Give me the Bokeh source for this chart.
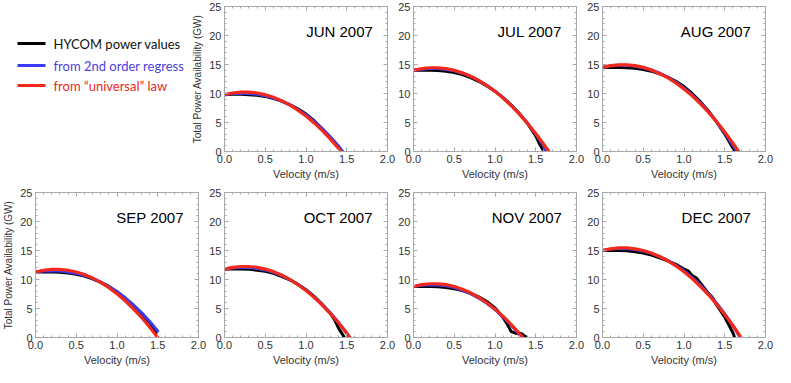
from bokeh.plotting import figure
from bokeh.models import (Range1d, LinearAxis, SingleIntervalTicker, PrintfTickFormatter,
                          Label, CustomLabelingPolicy)
from bokeh.layouts import row, column
from bokeh.core.properties import value
from bokeh.embed import file_html
from bokeh.resources import INLINE

# ---------------- data (velocity m/s, power GW) ----------------
SERIES_NAMES = ["HYCOM power values", "from 2nd order regress", "from \u201cuniversal\u201d law"]
MONTHS = ["JUN 2007", "JUL 2007", "AUG 2007", "SEP 2007", "OCT 2007", "NOV 2007", "DEC 2007"]

jun_hycom_v = [0.0, 0.1, 0.2, 0.3, 0.4, 0.5, 0.6, 0.7, 0.8, 0.9, 1.0, 1.1, 1.2, 1.3, 1.4, 1.44]
jun_hycom_p = [9.8, 9.85, 9.85, 9.8, 9.7, 9.5, 9.15, 8.7, 8.1, 7.35, 6.45, 5.3, 3.9, 2.4, 0.8, 0.0]
jun_regr_v = [0.0, 0.1, 0.2, 0.3, 0.4, 0.5, 0.6, 0.7, 0.8, 0.9, 1.0, 1.1, 1.2, 1.3, 1.4, 1.45]
jun_regr_p = [9.8, 10.0, 10.05, 10.0, 9.85, 9.6, 9.2, 8.7, 8.05, 7.25, 6.3, 5.2, 3.9, 2.5, 0.9, 0.0]
jun_univ_v = [0.0, 0.1, 0.2, 0.3, 0.4, 0.5, 0.6, 0.7, 0.8, 0.9, 1.0, 1.1, 1.2, 1.3, 1.4, 1.43]
jun_univ_p = [9.8, 10.09, 10.24, 10.24, 10.09, 9.8, 9.35, 8.77, 8.03, 7.14, 6.11, 4.93, 3.6, 2.13, 0.51, 0.0]

jul_hycom_v = [0.0, 0.1, 0.2, 0.3, 0.4, 0.5, 0.6, 0.7, 0.8, 0.9, 1.0, 1.1, 1.2, 1.3, 1.4, 1.5, 1.55, 1.6]
jul_hycom_p = [14.0, 14.0, 14.0, 13.95, 13.85, 13.6, 13.25, 12.75, 12.1, 11.3, 10.4, 9.3, 8.0, 6.5, 4.8, 2.7, 1.2, 0.0]
jul_regr_v = [0.0, 0.1, 0.2, 0.3, 0.4, 0.5, 0.6, 0.7, 0.8, 0.9, 1.0, 1.1, 1.2, 1.3, 1.4, 1.5, 1.6, 1.62]
jul_regr_p = [14.0, 14.2, 14.3, 14.3, 14.15, 13.9, 13.5, 12.95, 12.25, 11.4, 10.4, 9.25, 7.95, 6.5, 4.85, 3.0, 0.9, 0.0]
jul_univ_v = [0.0, 0.1, 0.2, 0.3, 0.4, 0.5, 0.6, 0.7, 0.8, 0.9, 1.0, 1.1, 1.2, 1.3, 1.4, 1.5, 1.6, 1.66]
jul_univ_p = [14.0, 14.29, 14.44, 14.44, 14.29, 14.0, 13.56, 12.98, 12.26, 11.38, 10.37, 9.2, 7.89, 6.44, 4.84, 3.1, 1.21, 0.0]

aug_hycom_v = [0.0, 0.1, 0.2, 0.3, 0.4, 0.5, 0.6, 0.7, 0.8, 0.9, 1.0, 1.1, 1.2, 1.3, 1.4, 1.5, 1.6, 1.62]
aug_hycom_p = [14.5, 14.5, 14.5, 14.45, 14.35, 14.15, 13.85, 13.4, 12.85, 12.1, 11.2, 10.0, 8.6, 7.0, 5.1, 3.0, 0.6, 0.0]
aug_regr_v = [0.0, 0.1, 0.2, 0.3, 0.4, 0.5, 0.6, 0.7, 0.8, 0.9, 1.0, 1.1, 1.2, 1.3, 1.4, 1.5, 1.6, 1.65]
aug_regr_p = [14.5, 14.75, 14.85, 14.85, 14.7, 14.45, 14.05, 13.5, 12.8, 11.95, 10.95, 9.75, 8.4, 6.85, 5.1, 3.2, 1.1, 0.0]
aug_univ_v = [0.0, 0.1, 0.2, 0.3, 0.4, 0.5, 0.6, 0.7, 0.8, 0.9, 1.0, 1.1, 1.2, 1.3, 1.4, 1.5, 1.6, 1.67]
aug_univ_p = [14.5, 14.8, 14.94, 14.94, 14.8, 14.5, 14.06, 13.46, 12.72, 11.83, 10.79, 9.6, 8.27, 6.78, 5.15, 3.37, 1.44, 0.0]

sep_hycom_v = [0.0, 0.1, 0.2, 0.3, 0.4, 0.5, 0.6, 0.7, 0.8, 0.9, 1.0, 1.1, 1.2, 1.3, 1.4, 1.47, 1.49]
sep_hycom_p = [11.3, 11.3, 11.3, 11.25, 11.1, 10.9, 10.6, 10.1, 9.5, 8.8, 7.9, 6.8, 5.5, 4.1, 2.6, 1.2, 0.0]
sep_regr_v = [0.0, 0.1, 0.2, 0.3, 0.4, 0.5, 0.6, 0.7, 0.8, 0.9, 1.0, 1.1, 1.2, 1.3, 1.4, 1.5]
sep_regr_p = [11.3, 11.45, 11.5, 11.45, 11.3, 11.05, 10.7, 10.2, 9.55, 8.8, 7.9, 6.85, 5.65, 4.3, 2.8, 1.1]
sep_univ_v = [0.0, 0.1, 0.2, 0.3, 0.4, 0.5, 0.6, 0.7, 0.8, 0.9, 1.0, 1.1, 1.2, 1.3, 1.4, 1.5]
sep_univ_p = [11.3, 11.6, 11.75, 11.75, 11.6, 11.3, 10.85, 10.25, 9.5, 8.59, 7.54, 6.34, 4.98, 3.48, 1.82, 0.0]

oct_hycom_v = [0.0, 0.1, 0.2, 0.3, 0.4, 0.5, 0.6, 0.7, 0.8, 0.9, 1.0, 1.1, 1.2, 1.3, 1.35, 1.4, 1.45, 1.47]
oct_hycom_p = [11.8, 11.8, 11.8, 11.75, 11.6, 11.4, 11.05, 10.55, 9.95, 9.2, 8.25, 7.1, 5.7, 4.1, 3.1, 1.6, 0.5, 0.0]
oct_regr_v = [0.0, 0.1, 0.2, 0.3, 0.4, 0.5, 0.6, 0.7, 0.8, 0.9, 1.0, 1.1, 1.2, 1.3, 1.4, 1.5, 1.53]
oct_regr_p = [11.8, 12.0, 12.1, 12.05, 11.9, 11.65, 11.25, 10.7, 10.0, 9.15, 8.15, 7.0, 5.7, 4.25, 2.6, 0.8, 0.0]
oct_univ_v = [0.0, 0.1, 0.2, 0.3, 0.4, 0.5, 0.6, 0.7, 0.8, 0.9, 1.0, 1.1, 1.2, 1.3, 1.4, 1.5, 1.54]
oct_univ_p = [11.8, 12.09, 12.24, 12.24, 12.09, 11.8, 11.36, 10.77, 10.03, 9.14, 8.11, 6.93, 5.6, 4.13, 2.51, 0.74, 0.0]

nov_hycom_v = [0.0, 0.1, 0.2, 0.3, 0.4, 0.5, 0.6, 0.7, 0.8, 0.9, 1.0, 1.05, 1.1, 1.15, 1.2, 1.25, 1.32, 1.36, 1.39]
nov_hycom_p = [8.8, 8.8, 8.8, 8.75, 8.6, 8.4, 8.1, 7.6, 7.0, 6.2, 5.1, 4.3, 3.4, 2.3, 1.0, 0.75, 0.7, 0.3, 0.0]
nov_regr_v = [0.0, 0.1, 0.2, 0.3, 0.4, 0.5, 0.6, 0.7, 0.8, 0.9, 1.0, 1.1, 1.2, 1.3, 1.32]
nov_regr_p = [8.8, 9.0, 9.1, 9.05, 8.9, 8.6, 8.15, 7.55, 6.8, 5.9, 4.8, 3.55, 2.1, 0.5, 0.0]
nov_univ_v = [0.0, 0.1, 0.2, 0.3, 0.4, 0.5, 0.6, 0.7, 0.8, 0.9, 1.0, 1.1, 1.2, 1.3, 1.34]
nov_univ_p = [8.8, 9.11, 9.27, 9.27, 9.11, 8.8, 8.33, 7.71, 6.92, 5.99, 4.89, 3.64, 2.23, 0.67, 0.0]

dec_hycom_v = [0.0, 0.1, 0.2, 0.3, 0.4, 0.5, 0.6, 0.7, 0.8, 0.9, 1.0, 1.05, 1.1, 1.15, 1.2, 1.3, 1.35, 1.4, 1.5, 1.55, 1.6, 1.62]
dec_hycom_p = [15.0, 15.0, 15.0, 14.95, 14.8, 14.55, 14.2, 13.75, 13.2, 12.6, 11.8, 11.5, 10.7, 10.3, 9.4, 7.6, 6.9, 5.6, 3.5, 2.2, 0.8, 0.0]
dec_regr_v = [0.0, 0.1, 0.2, 0.3, 0.4, 0.5, 0.6, 0.7, 0.8, 0.9, 1.0, 1.1, 1.2, 1.3, 1.4, 1.5, 1.6, 1.69]
dec_regr_p = [15.0, 15.25, 15.35, 15.3, 15.15, 14.9, 14.5, 13.95, 13.3, 12.45, 11.5, 10.35, 9.05, 7.55, 5.9, 4.05, 2.05, 0.0]
dec_univ_v = [0.0, 0.1, 0.2, 0.3, 0.4, 0.5, 0.6, 0.7, 0.8, 0.9, 1.0, 1.1, 1.2, 1.3, 1.4, 1.5, 1.6, 1.7]
dec_univ_p = [15.0, 15.29, 15.44, 15.44, 15.29, 15.0, 14.56, 13.97, 13.24, 12.36, 11.33, 10.15, 8.83, 7.36, 5.75, 3.98, 2.07, 0.0]

X_LABEL = "Velocity (m/s)"
Y_LABEL = "Total Power Availability (GW)"

# ---------------- styling ----------------
COLORS = ["#000000", "#3b3bf2", "#f2281a"]
TEXT_COLORS = ["#111111", "#4a3fe0", "#e8281c"]
WIDTHS = [3.0, 3.0, 3.2]
FRAME_W, FRAME_H = 163, 145
AX_COLOR = "#a8a8a8"
TICK_FONT = "Liberation Sans"
TOP_B, BOT_B = (6, 30), (10, 28)   # min borders (top, bottom) for the two rows


def style_axis(ax, labels=True):
    ax.axis_line_color = AX_COLOR
    ax.major_tick_line_color = AX_COLOR
    ax.minor_tick_line_color = AX_COLOR
    ax.major_tick_in = 4
    ax.major_tick_out = 0
    ax.minor_tick_in = 2
    ax.minor_tick_out = 0
    if labels:
        ax.major_label_text_font = TICK_FONT
        ax.major_label_text_font_size = "11px"
        ax.major_label_text_color = "#333333"
        ax.major_label_standoff = 3
    else:
        # tick marks only: no labels are drawn and none take up room
        ax.major_label_text_font_size = "0px"
        ax.major_label_policy = CustomLabelingPolicy(code="return []")
        ax.major_label_standoff = 0


def panel(title, data, ylabel, top_row, last_col):
    tb, bb = TOP_B if top_row else BOT_B
    p = figure(frame_width=FRAME_W, frame_height=FRAME_H,
               x_range=Range1d(0, 2.0), y_range=Range1d(0, 25),
               output_backend="svg", toolbar_location=None,
               min_border_left=30 if ylabel else 18, min_border_right=11 if last_col else 8,
               min_border_top=tb, min_border_bottom=bb)
    p.grid.visible = False
    p.outline_line_color = AX_COLOR
    p.background_fill_color = "white"

    p.xaxis.ticker = SingleIntervalTicker(interval=0.5, num_minor_ticks=5)
    p.yaxis.ticker = SingleIntervalTicker(interval=5, num_minor_ticks=5)
    p.xaxis.formatter = PrintfTickFormatter(format="%.1f")
    for ax in p.xaxis + p.yaxis:
        style_axis(ax)
    p.xaxis.axis_label = X_LABEL
    p.xaxis.axis_label_text_font = TICK_FONT
    p.xaxis.axis_label_text_font_style = "normal"
    p.xaxis.axis_label_text_font_size = "11px"
    p.xaxis.axis_label_text_color = "#333333"
    p.xaxis.axis_label_standoff = 2
    if ylabel:
        p.yaxis.axis_label = Y_LABEL
        p.yaxis.axis_label_text_font = TICK_FONT
        p.yaxis.axis_label_text_font_style = "normal"
        p.yaxis.axis_label_text_font_size = "10px"
        p.yaxis.axis_label_text_color = "#333333"
        p.yaxis.axis_label_standoff = 3

    top = LinearAxis(ticker=SingleIntervalTicker(interval=0.5, num_minor_ticks=5))
    right = LinearAxis(ticker=SingleIntervalTicker(interval=5, num_minor_ticks=5))
    style_axis(top, labels=False)
    style_axis(right, labels=False)
    p.add_layout(top, "above")
    p.add_layout(right, "right")

    for (v, pw), c, w in zip(data, COLORS, WIDTHS):
        p.line(v, pw, line_color=c, line_width=w, line_join="round", line_cap="round")

    p.add_layout(Label(x=1.82, y=20.7, text=title, text_align="right", text_baseline="middle",
                       text_font=TICK_FONT, text_font_size="15px", text_color="#000000"))
    return p


# legend cell: a blank frame whose ranges are in pixels (y measured from the frame top)
LEG_W = 189
leg_fig = figure(frame_width=LEG_W, frame_height=FRAME_H,
                 x_range=Range1d(0, LEG_W), y_range=Range1d(FRAME_H, 0),
                 x_axis_type=None, y_axis_type=None, output_backend="svg",
                 toolbar_location=None, min_border_left=0, min_border_right=0,
                 min_border_top=TOP_B[0], min_border_bottom=TOP_B[1], outline_line_color=None)
leg_fig.grid.visible = False
LEG_ROWS = [37, 59, 79]
LEG_X0, LEG_X1, LEG_TX = 17, 45, 53
leg_fig.segment(x0=[LEG_X0] * 3, x1=[LEG_X1] * 3, y0=LEG_ROWS, y1=LEG_ROWS,
                line_color=COLORS, line_width=3)
leg_fig.text(x=[LEG_TX] * 3, y=LEG_ROWS, text=SERIES_NAMES, text_color=TEXT_COLORS,
             text_font=value("Lato"), text_font_size="13px", text_baseline="middle",
             text_align="left")

panels = [
    panel(MONTHS[0], [(jun_hycom_v, jun_hycom_p), (jun_regr_v, jun_regr_p), (jun_univ_v, jun_univ_p)], True, True, False),
    panel(MONTHS[1], [(jul_hycom_v, jul_hycom_p), (jul_regr_v, jul_regr_p), (jul_univ_v, jul_univ_p)], False, True, False),
    panel(MONTHS[2], [(aug_hycom_v, aug_hycom_p), (aug_regr_v, aug_regr_p), (aug_univ_v, aug_univ_p)], False, True, True),
    panel(MONTHS[3], [(sep_hycom_v, sep_hycom_p), (sep_regr_v, sep_regr_p), (sep_univ_v, sep_univ_p)], True, False, False),
    panel(MONTHS[4], [(oct_hycom_v, oct_hycom_p), (oct_regr_v, oct_regr_p), (oct_univ_v, oct_univ_p)], False, False, False),
    panel(MONTHS[5], [(nov_hycom_v, nov_hycom_p), (nov_regr_v, nov_regr_p), (nov_univ_v, nov_univ_p)], False, False, False),
    panel(MONTHS[6], [(dec_hycom_v, dec_hycom_p), (dec_regr_v, dec_regr_p), (dec_univ_v, dec_univ_p)], False, False, True),
]

layout = column(row(leg_fig, panels[0], panels[1], panels[2], spacing=0),
                row(panels[3], panels[4], panels[5], panels[6], spacing=0), spacing=0)

open("out.html", "w").write(file_html(layout, INLINE))
